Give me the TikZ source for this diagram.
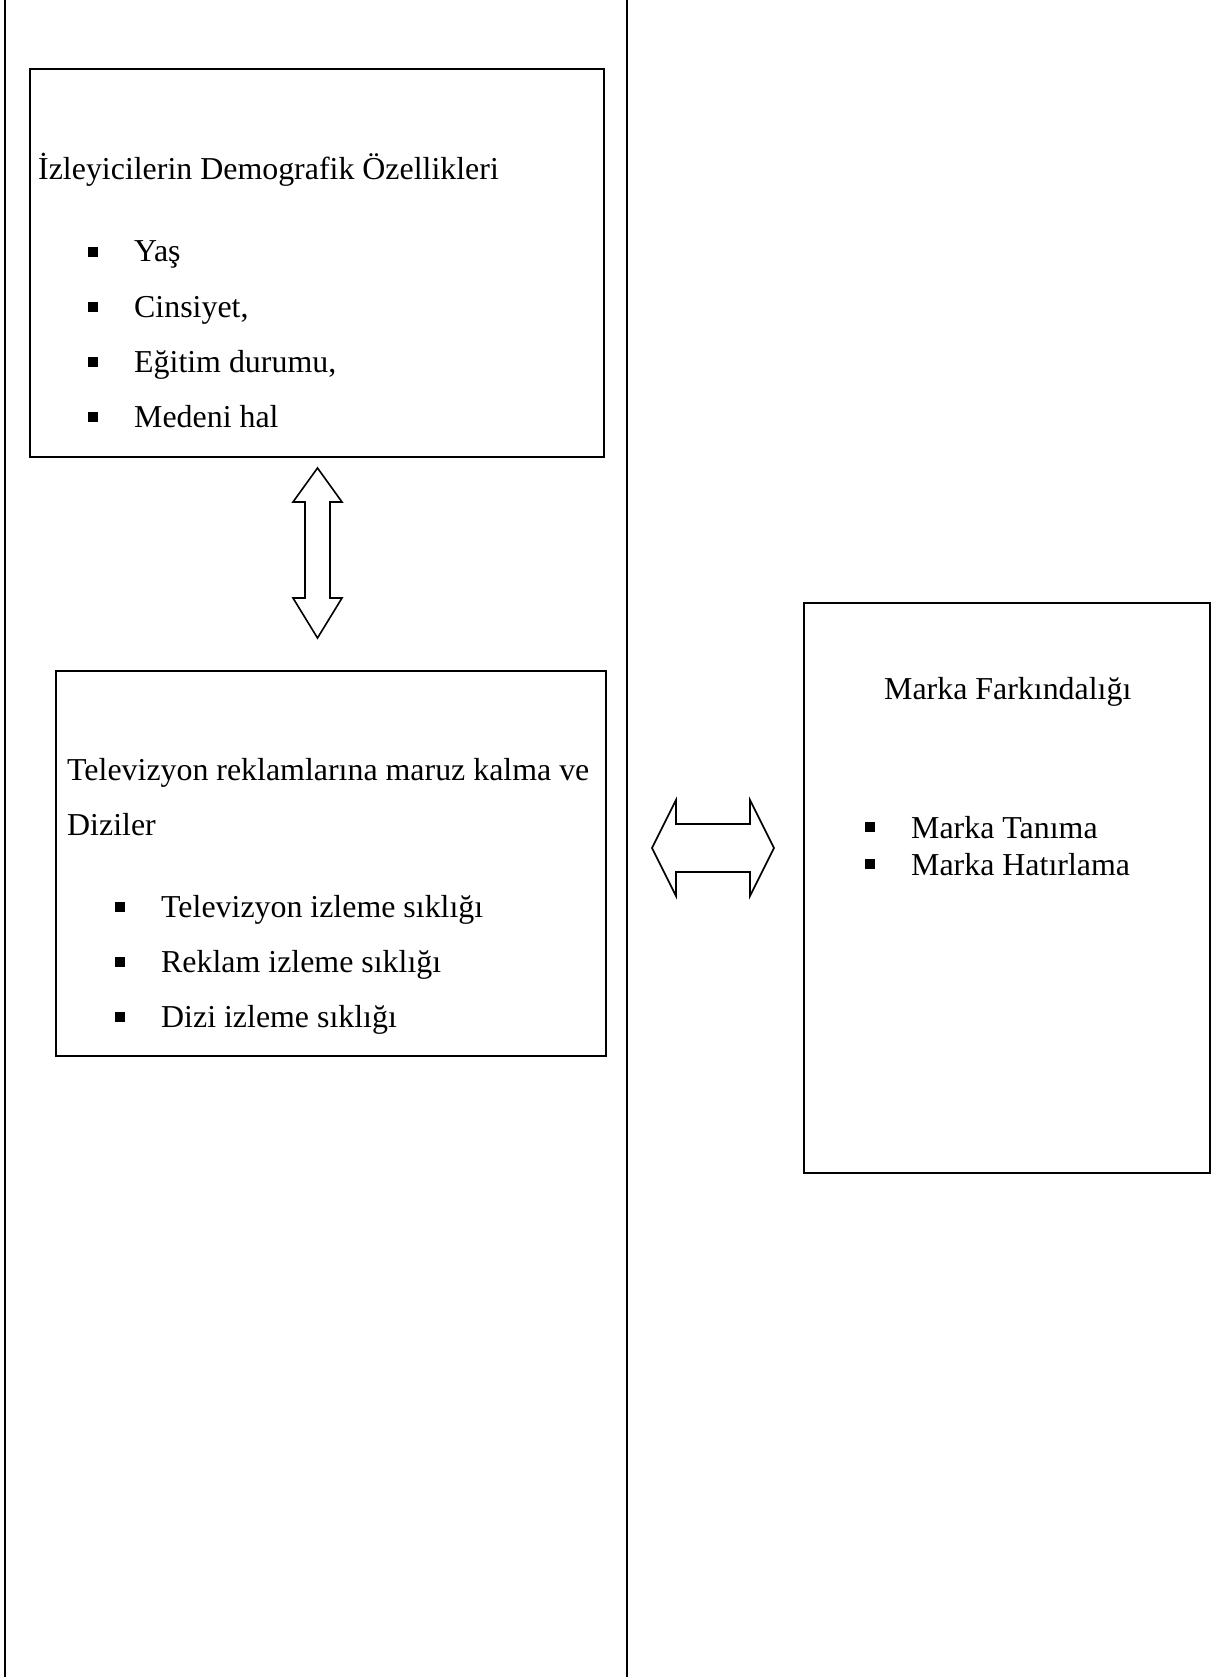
\documentclass[tikz,border=0pt]{standalone}
\usepackage{fontspec}
\setmainfont{Liberation Serif}
\begin{document}
\begin{tikzpicture}[x=1pt,y=-1pt,
  boxst/.style={draw, line width=2pt, inner sep=0pt, anchor=north west},
  txt/.style={anchor=base west, inner sep=0pt, font=\fontsize{31.9}{38}\selectfont},
  bul/.style={fill=black, draw=none, inner sep=0pt, minimum size=10pt, anchor=south west},
  blockarrow/.style={draw, line width=1.6pt, line join=miter},
  divider/.style={line width=2.5pt}]
\useasboundingbox (0,0) rectangle (1230,1677);

% column dividers
\coordinate (d1t) at (5,0);   \coordinate (d1b) at (5,1677);
\coordinate (d2t) at (627,0); \coordinate (d2b) at (627,1677);
\draw[divider] (d1t) -- (d1b);
\draw[divider] (d2t) -- (d2b);

% boxes
\node[boxst, minimum width=574pt, minimum height=388pt] (demo) at (29,68) {};
\node[boxst, minimum width=550pt, minimum height=385pt] (tv) at (54.5,669.5) {};
\node[boxst, minimum width=406pt, minimum height=570pt] (marka) at (803,602) {};

% box 1 text
\node[txt] (t1) at (38,180) {İzleyicilerin Demografik Özellikleri};
\node[bul] (b11) at (88,257.5) {};
\node[txt] (i11) at (134,262) {Yaş};
\node[bul] (b12) at (88,312.5) {};
\node[txt] (i12) at (134,317) {Cinsiyet,};
\node[bul] (b13) at (88,367.5) {};
\node[txt] (i13) at (134,372) {Eğitim durumu,};
\node[bul] (b14) at (88,422.5) {};
\node[txt] (i14) at (134,427) {Medeni hal};

% box 2 text
\node[txt] (t2a) at (67,780) {Televizyon reklamlarına maruz kalma ve};
\node[txt] (t2b) at (67,835) {Diziler};
\node[bul] (b21) at (115,912) {};
\node[txt] (i21) at (161,917) {Televizyon izleme sıklığı};
\node[bul] (b22) at (115,967) {};
\node[txt] (i22) at (161,972) {Reklam izleme sıklığı};
\node[bul] (b23) at (115,1022) {};
\node[txt] (i23) at (161,1027) {Dizi izleme sıklığı};

% box 3 text
\node[txt] (t3) at (884,699) {Marka Farkındalığı};
\node[bul] (b31) at (865,832) {};
\node[txt] (i31) at (911,838) {Marka Tanıma};
\node[bul] (b32) at (865,869) {};
\node[txt] (i32) at (911,875) {Marka Hatırlama};

% vertical double block arrow
\coordinate (vtop) at (317.5,468);
\coordinate (vbot) at (317.5,638);
\draw[blockarrow] (vtop) -- ++(24.5,34) -- ++(-12,0) -- ++(0,96) -- ++(12,0)
  -- (vbot) -- ++(-24.5,-40) -- ++(12,0) -- ++(0,-96) -- ++(-12,0) -- cycle;

% horizontal double block arrow
\coordinate (hl) at (652,848);
\coordinate (hr) at (774,848);
\draw[blockarrow] (hl) -- ++(24,-48) -- ++(0,24) -- ++(74,0) -- ++(0,-24)
  -- (hr) -- ++(-24,48) -- ++(0,-24) -- ++(-74,0) -- ++(0,24) -- cycle;
\end{tikzpicture}
\end{document}
